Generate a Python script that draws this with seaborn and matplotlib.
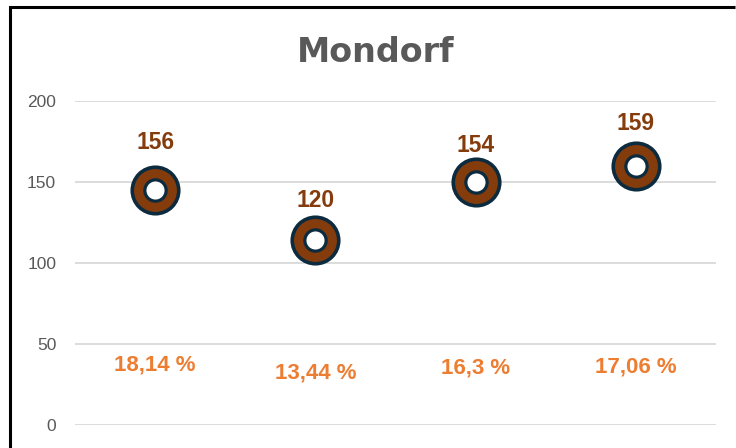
import matplotlib
matplotlib.use("Agg")
import matplotlib.pyplot as plt
import pandas as pd
import seaborn as sns
from matplotlib.lines import Line2D

# ---------------------------------------------------------------------------
# Data
# ---------------------------------------------------------------------------
categories = ["A", "B", "C", "D"]
marker_values = [145, 114, 150, 160]
count_labels = ["156", "120", "154", "159"]
share_values = [18.14, 13.44, 16.3, 17.06]
share_labels = ["18,14 %", "13,44 %", "16,3 %", "17,06 %"]
y_ticks = [0, 50, 100, 150, 200]

# label offsets in points (the last one sits a bit higher in the original)
count_offsets = [21.5, 21.5, 21.5, 31.5]
share_offset = 22

BROWN = "#843C0C"
DARK = "#0D2B3E"
ORANGE = "#ED7D31"
GREY_TEXT = "#595959"
GRID = "#D9D9D9"

sns.set_theme(style="white")
plt.rcParams["font.family"] = ["Liberation Sans", "DejaVu Sans"]

df = pd.DataFrame({"cat": categories, "value": marker_values})

fig = plt.figure(figsize=(7.36, 4.48), dpi=100, facecolor="white", edgecolor="white")
ax = fig.add_axes([75 / 736, 1 - 425 / 448, (716 - 75) / 736, (425 - 101) / 448])

# outer brown ring + inner white hole
sns.scatterplot(data=df, x="cat", y="value", ax=ax, s=1120, color=BROWN,
                edgecolor=DARK, linewidth=2.6, zorder=3, legend=False)
sns.scatterplot(data=df, x="cat", y="value", ax=ax, s=235, color="white",
                edgecolor=DARK, linewidth=2.3, zorder=4, legend=False)

for i, (lab, off) in enumerate(zip(count_labels, count_offsets)):
    ax.annotate(lab, xy=(i, int(lab)), xytext=(0, off), textcoords="offset points",
                ha="center", va="center", fontsize=16.5, fontweight="bold",
                color=BROWN, zorder=5)

for i, (val, lab) in enumerate(zip(share_values, share_labels)):
    ax.annotate(lab, xy=(i, val), xytext=(0, share_offset), textcoords="offset points",
                ha="center", va="center", fontsize=16, fontweight="bold",
                color=ORANGE, zorder=5)

ax.set_xlim(-0.5, len(categories) - 0.5)
ax.set_ylim(0, 200)
ax.set_yticks(y_ticks)
ax.set_xticks([])
ax.set_xlabel("")
ax.set_ylabel("")
ax.yaxis.grid(True, color=GRID, linewidth=1.3)
ax.set_axisbelow(True)
ax.tick_params(axis="y", length=0, pad=13.5, labelsize=12.5, labelcolor=GREY_TEXT)
for sp in ax.spines.values():
    sp.set_visible(False)
ax.patch.set_alpha(0)

fig.text(376 / 736, 1 - 62 / 448, "Mondorf", ha="center", va="baseline",
         fontsize=24, fontweight="bold", color=GREY_TEXT, family="DejaVu Sans")

# outer chart frame (only left and top edges are visible in the crop)
fx = 9.5 / 736
fy = 1 - 7 / 448
fig.add_artist(Line2D([fx, fx], [0, fy], transform=fig.transFigure,
                      color="black", linewidth=2.2, solid_capstyle="projecting"))
fig.add_artist(Line2D([fx, 0.999], [fy, fy], transform=fig.transFigure,
                      color="black", linewidth=2.2, solid_capstyle="butt"))

fig.savefig("out.png", dpi=100, facecolor="white", edgecolor="white")
